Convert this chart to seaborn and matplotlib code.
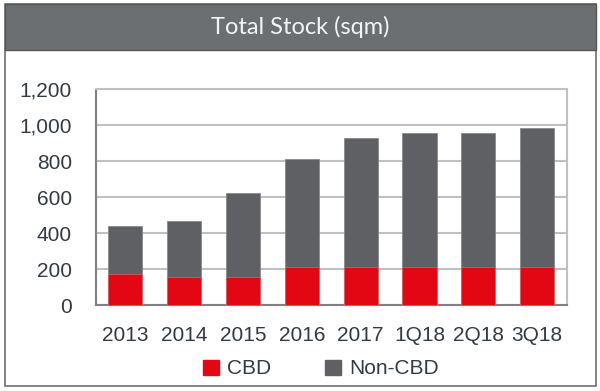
import numpy as np
import pandas as pd
import seaborn as sns
import matplotlib.pyplot as plt
from matplotlib.patches import Rectangle, Patch

periods = ["2013", "2014", "2015", "2016", "2017", "1Q18", "2Q18", "3Q18"]
cbd = [172, 155, 159, 211, 211, 211, 211, 211]
total = [442, 468, 626, 811, 931, 959, 959, 987]
non_cbd = [t - c for t, c in zip(total, cbd)]

red = "#e30613"
grey = "#5f6064"

df = pd.DataFrame({"period": periods, "CBD": cbd, "Non-CBD": non_cbd, "total": total})

sns.set_style("white")
plt.rcParams["font.family"] = ["Liberation Sans", "DejaVu Sans"]

fig = plt.figure(figsize=(6, 3.91), dpi=100)
ax = fig.add_axes([95.7 / 600, 1 - 305.3 / 391, (566.7 - 95.7) / 600, 216 / 391])

# frame and title bar
fig.patches.append(Rectangle((4.5 / 600, 1 - 386 / 391), 591 / 600, 382 / 391,
                             transform=fig.transFigure, fill=False, ec="#6e6e6e", lw=1.2))
fig.patches.append(Rectangle((4.5 / 600, 1 - 50 / 391), 591 / 600, 46 / 391,
                             transform=fig.transFigure, fc="#6c6f72", ec="#555555", lw=1))
fig.text(0.5, 1 - 27 / 391, "Total Stock (sqm)", ha="center", va="center",
         color="#f4f4f4", fontsize=17, family=["Lato", "DejaVu Sans"])

# stacked bars: total in grey, CBD in red on top of it
sns.barplot(data=df, x="period", y="total", color=grey, width=0.58, ax=ax,
            saturation=1, edgecolor="#8a8a8a", linewidth=0.6, zorder=3)
sns.barplot(data=df, x="period", y="CBD", color=red, width=0.58, ax=ax,
            saturation=1, edgecolor="#f07070", linewidth=0.4, zorder=4)

ax.set_xlim(-0.5, len(periods) - 0.5)
ax.set_ylim(0, 1200)
ax.set_yticks(range(0, 1201, 200))
ax.set_yticklabels([f"{v:,}" for v in range(0, 1201, 200)])
ax.set_xlabel("")
ax.set_ylabel("")
ax.yaxis.grid(True, color="#c0c0c0", lw=1.5, zorder=0)
ax.set_axisbelow(True)

for s in ["top", "right"]:
    ax.spines[s].set_color("#c0c0c0")
    ax.spines[s].set_linewidth(1.5)
for s in ["left", "bottom"]:
    ax.spines[s].set_color("#808080")
    ax.spines[s].set_linewidth(1.5)

ax.set_xticks(np.arange(-0.5, len(periods)), minor=True)
ax.tick_params(axis="x", which="minor", length=5, width=1.2, color="#808080", direction="out")
ax.tick_params(axis="x", which="major", length=0, pad=15, labelsize=15, labelcolor="#333a40")
ax.tick_params(axis="y", length=6, width=1.2, color="#808080", direction="out", pad=11,
               labelsize=15, labelcolor="#333a40")

handles = [Patch(color=red, label="CBD"), Patch(color=grey, label="Non-CBD")]
fig.legend(handles=handles, loc="center", bbox_to_anchor=(0.535, 1 - 369 / 391), ncol=2,
           frameon=False, fontsize=15, handlelength=0.75, handleheight=0.75,
           columnspacing=2.6, handletextpad=0.4, labelcolor="#333a40")

fig.savefig("out.png", dpi=100)
